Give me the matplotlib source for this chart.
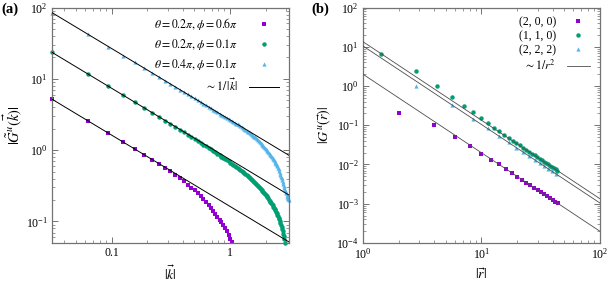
import numpy as np
import matplotlib
matplotlib.use('Agg')
import matplotlib.pyplot as plt
from matplotlib.ticker import LogLocator, FixedLocator, FixedFormatter, NullFormatter

plt.rcParams['font.family'] = 'serif'
plt.rcParams['font.serif'] = ['Liberation Serif', 'DejaVu Serif']
plt.rcParams['mathtext.fontset'] = 'stix'
plt.rcParams['font.size'] = 8

# ---- panel (a): |G(k)| on the grid k = n*pi/100 ----
n_a = np.arange(1, 101)
k_a = n_a * np.pi / 100

G_cyan = [85.0, 42.5, 28.33, 21.25, 17.0, 14.17, 12.14, 10.63, 9.444, 8.5,
          7.727, 7.083, 6.538, 6.071, 5.667, 5.313, 5.0, 4.722, 4.474, 4.25,
          4.048, 3.864, 3.696, 3.542, 3.4, 3.269, 3.148, 3.036, 2.931, 2.833,
          2.742, 2.656, 2.576, 2.5, 2.429, 2.361, 2.293, 2.226, 2.163, 2.104,
          2.044, 1.987, 1.932, 1.880, 1.827, 1.778, 1.729, 1.682, 1.637, 1.593,
          1.549, 1.507, 1.465, 1.425, 1.384, 1.345, 1.305, 1.268, 1.230, 1.193,
          1.156, 1.121, 1.087, 1.053, 1.020, 0.988, 0.956, 0.925, 0.894, 0.864,
          0.835, 0.806, 0.778, 0.750, 0.722, 0.696, 0.669, 0.643, 0.617, 0.591,
          0.565, 0.539, 0.507, 0.476, 0.45, 0.425, 0.401, 0.377, 0.356, 0.335,
          0.315, 0.296, 0.279, 0.262, 0.247, 0.233, 0.223, 0.2125, 0.205, 0.200]

G_green = [23.55, 11.77, 7.844, 5.879, 4.700, 3.912, 3.349, 2.927, 2.598, 2.334,
           2.118, 1.937, 1.784, 1.652, 1.538, 1.438, 1.349, 1.270, 1.199, 1.135,
           1.077, 1.024, 0.975, 0.930, 0.889, 0.8505, 0.815, 0.782, 0.751, 0.7214,
           0.694, 0.668, 0.644, 0.6206, 0.599, 0.578, 0.558, 0.540, 0.5215, 0.5046,
           0.488, 0.472, 0.457, 0.4426, 0.4284, 0.415, 0.402, 0.3896, 0.3774, 0.3657,
           0.3544, 0.3433, 0.3327, 0.3225, 0.3125, 0.3027, 0.2933, 0.284, 0.2751, 0.2663,
           0.2578, 0.2494, 0.2413, 0.2333, 0.2256, 0.2179, 0.2105, 0.2032, 0.1960, 0.1890,
           0.1821, 0.1754, 0.1687, 0.1622, 0.1557, 0.1494, 0.1431, 0.1370, 0.1309, 0.1249,
           0.1190, 0.1131, 0.1073, 0.1015, 0.0958, 0.0901, 0.0845, 0.0788, 0.0732, 0.0675,
           0.0619, 0.0562, 0.0505]

G_purple = [5.19, 2.595, 1.73, 1.30, 1.04, 0.865, 0.738, 0.642, 0.565, 0.503,
            0.451, 0.407, 0.365, 0.330, 0.299, 0.272, 0.249, 0.228, 0.208, 0.189,
            0.172, 0.156, 0.141, 0.128, 0.116, 0.106, 0.0971, 0.0890, 0.0805, 0.0727,
            0.0653, 0.0576, 0.0519]

fit_a = [0.163, 0.74, 2.67]   # prefactors of the ~1/|k| guide lines

labels_a = [r'$\theta = 0.2\pi, \phi = 0.6\pi$',
            r'$\theta = 0.2\pi, \phi = 0.1\pi$',
            r'$\theta = 0.4\pi, \phi = 0.1\pi$']

# ---- panel (b): |G(r)| along three lattice directions ----
r_200 = 2.0 * np.arange(1, 23)
r_110 = np.sqrt(2) * np.arange(1, 32)
r_222 = 2 * np.sqrt(2) * np.arange(1, 16)

G_200 = [0.204, 0.100, 0.050, 0.0296, 0.019, 0.0133, 0.0100, 0.0077, 0.0061, 0.0049,
         0.0041, 0.00347, 0.00296, 0.00255, 0.00222, 0.00195, 0.00173, 0.00154, 0.00139,
         0.00125, 0.00113, 0.00103]
G_110 = [6.6, 2.35, 1.02, 0.52, 0.315, 0.213, 0.15, 0.113, 0.0875, 0.0702,
         0.0575, 0.0480, 0.0407, 0.0351, 0.0305, 0.02674, 0.02364, 0.02104, 0.01889, 0.01701,
         0.01541, 0.01403, 0.01282, 0.01178, 0.01084, 0.01002, 0.00929, 0.00864, 0.00804,
         0.00752, 0.00702]
G_222 = [1.03, 0.32, 0.144, 0.083, 0.0525, 0.0365, 0.0268, 0.0205, 0.0162, 0.0131,
         0.0109, 0.0091, 0.0078, 0.0067, 0.0058]

fit_b = [2.0, 13.5, 10.5]     # prefactors of the ~1/r^2 guide lines

labels_b = ['(2, 0, 0)', '(1, 1, 0)', '(2, 2, 2)']

colors = ['#9400d3', '#009e73', '#56b4e9']
markers = ['s', 'o', '^']
msizes = [3.4, 3.2, 3.0]
frame = '0.45'


def style_axes(ax):
    for s in ax.spines.values():
        s.set_color(frame)
        s.set_linewidth(0.9)
    ax.tick_params(which='both', direction='in', top=True, right=True,
                   color=frame, labelsize=8.5, pad=3)
    ax.tick_params(which='major', length=4, width=0.7)
    ax.tick_params(which='minor', length=2.2, width=0.5)


fig = plt.figure(figsize=(6.07, 2.92), dpi=100)
ax1 = fig.add_axes([0.0857, 0.168, 0.390, 0.806])
ax2 = fig.add_axes([0.598, 0.168, 0.390, 0.806])

# panel (a)
handles = []
for G, c, m, ms, lab in zip([G_purple, G_green, G_cyan], colors, markers, msizes, labels_a):
    h, = ax1.plot(k_a[:len(G)], G, linestyle='none', marker=m, ms=ms, color=c,
                  mec=c, mew=0, label=lab, clip_on=False, zorder=2)
    handles.append(h)
kk = np.array([k_a[0], k_a[-1]])
for C in fit_a:
    hl, = ax1.plot(kk, C / kk, color='black', lw=0.7, zorder=3,
                   label=r'$\sim 1/\,|\vec{k}|$')
handles.append(hl)

ax1.set_xscale('log')
ax1.set_yscale('log')
ax1.set_xlim(k_a[0], k_a[-1])
ax1.set_ylim(0.05, 100)
ax1.xaxis.set_major_locator(FixedLocator([0.1, 1]))
ax1.xaxis.set_major_formatter(FixedFormatter(['0.1', '1']))
ax1.xaxis.set_minor_locator(LogLocator(base=10, subs=np.arange(2, 10)))
ax1.xaxis.set_minor_formatter(NullFormatter())
ax1.yaxis.set_major_locator(LogLocator(base=10, numticks=10))
ax1.yaxis.set_minor_locator(LogLocator(base=10, subs=np.arange(2, 10), numticks=10))
ax1.yaxis.set_minor_formatter(NullFormatter())
style_axes(ax1)
ax1.set_xlabel(r'$|\vec{k}|$', fontsize=10, labelpad=4)
ax1.set_ylabel(r'$|\tilde{G}^u(\vec{k})|$', fontsize=10.5, labelpad=1)
ax1.legend(handles=handles, loc='upper right', markerfirst=False, frameon=False,
           fontsize=8.5, handlelength=2.6, handletextpad=0.9, labelspacing=0.45,
           borderaxespad=0.3, bbox_to_anchor=(0.995, 1.0))
fig.text(0.003, 0.955, '(a)', fontsize=10.5, fontweight='bold', family='Liberation Serif')

# panel (b)
handles = []
for r, G, c, m, ms, lab in zip([r_200, r_110, r_222], [G_200, G_110, G_222],
                               colors, markers, msizes, labels_b):
    h, = ax2.plot(r, G, linestyle='none', marker=m, ms=ms, color=c,
                  mew=0, label=lab, clip_on=False, zorder=2)
    handles.append(h)
rr = np.array([1.0, 100.0])
for C in fit_b:
    hl, = ax2.plot(rr, C / rr**2, color='0.3', lw=0.6, zorder=3,
                   label=r'$\sim 1/r^2$')
handles.append(hl)

ax2.set_xscale('log')
ax2.set_yscale('log')
ax2.set_xlim(1, 100)
ax2.set_ylim(1e-4, 100)
ax2.xaxis.set_minor_locator(LogLocator(base=10, subs=np.arange(2, 10)))
ax2.xaxis.set_minor_formatter(NullFormatter())
ax2.yaxis.set_major_locator(LogLocator(base=10, numticks=10))
ax2.yaxis.set_minor_locator(LogLocator(base=10, subs=np.arange(2, 10), numticks=10))
ax2.yaxis.set_minor_formatter(NullFormatter())
style_axes(ax2)
ax2.set_xlabel(r'$|\vec{r}|$', fontsize=10, labelpad=4)
ax2.set_ylabel(r'$|G^u(\vec{r})|$', fontsize=10, labelpad=2)
ax2.legend(handles=handles, loc='upper right', markerfirst=False, frameon=False,
           fontsize=8.5, handlelength=2.0, handletextpad=0.9, labelspacing=0.2,
           borderaxespad=0.3, bbox_to_anchor=(0.995, 1.0))
fig.text(0.513, 0.955, '(b)', fontsize=10.5, fontweight='bold', family='Liberation Serif')

plt.savefig('out.png', dpi=100)
